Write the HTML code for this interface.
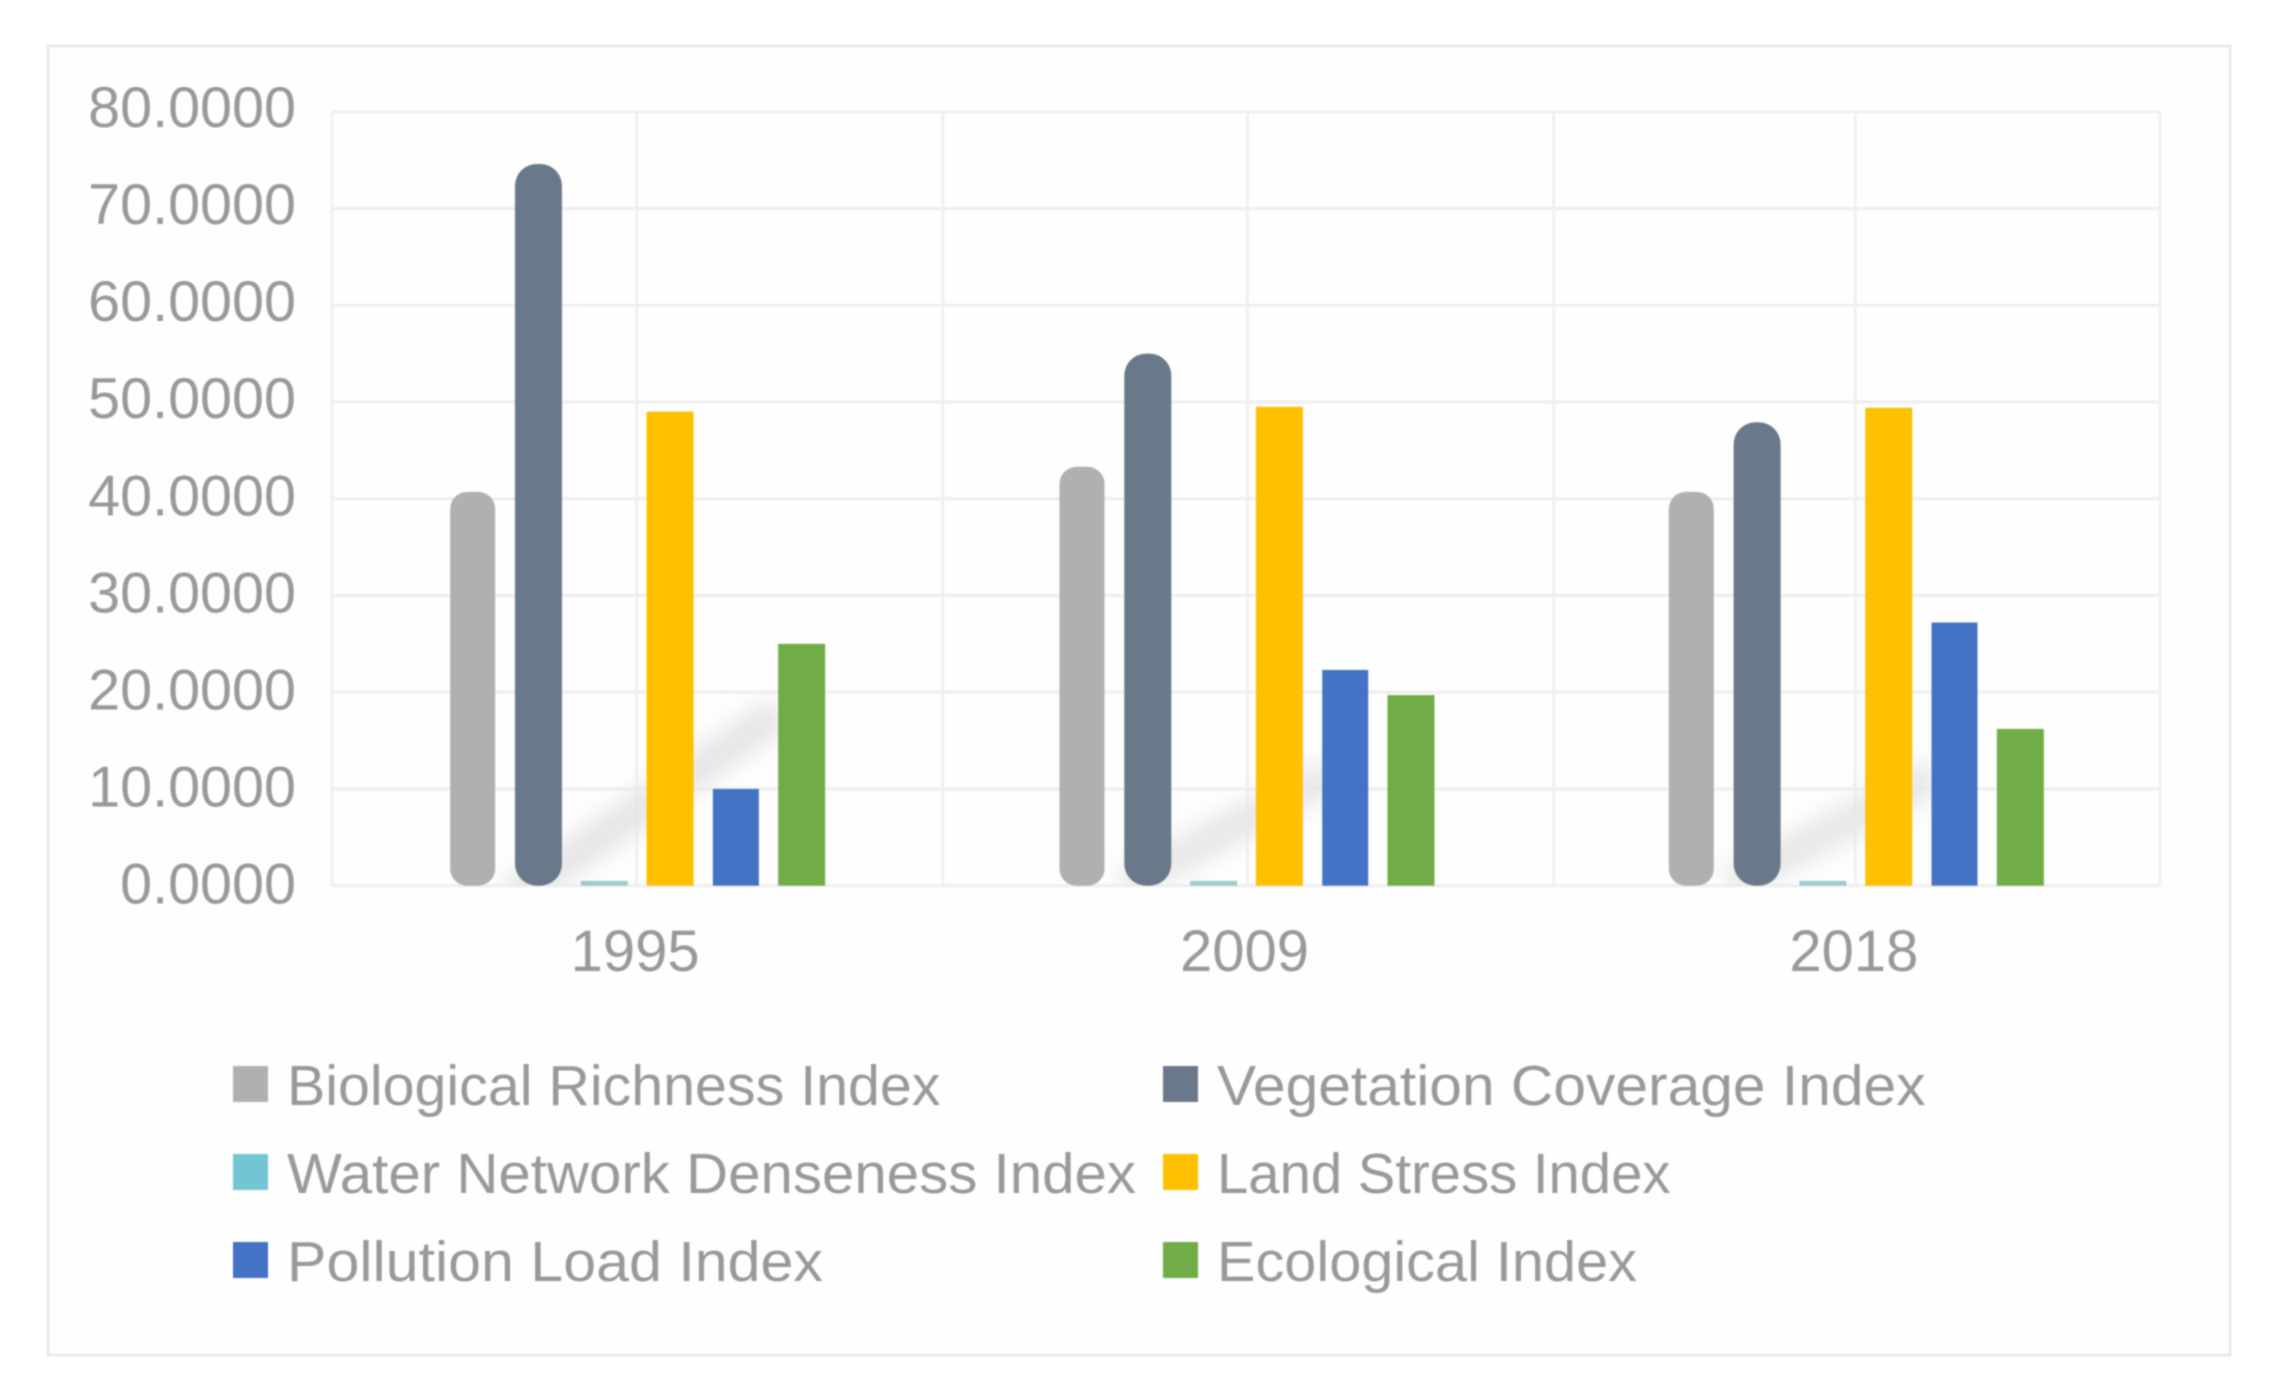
<!DOCTYPE html>
<html lang="en">
<head>
<meta charset="utf-8">
<title>Ecological index components by year</title>
<style>
  html, body { margin: 0; padding: 0; background: #ffffff; }
  body { width: 2272px; height: 1388px; overflow: hidden; }
  #chart { display: block; filter: blur(0.8px); }
  text { font-family: "Liberation Sans", sans-serif; fill: #999999; }
</style>
</head>
<body>
<svg id="chart" xmlns="http://www.w3.org/2000/svg" width="2272" height="1388" viewBox="0 0 2272 1388">
  <defs>
    <filter id="soft-shadow" x="-30%" y="-30%" width="160%" height="160%"><feGaussianBlur stdDeviation="12"></feGaussianBlur></filter>
    <clipPath id="plot-clip"><rect x="332" y="111" width="1828" height="774"></rect></clipPath>
  </defs>
  <rect x="48" y="46" width="2182" height="1309" fill="#fefefe" stroke="#e9e9e9" stroke-width="3"></rect>
  <g id="grid"></g>
  <g clip-path="url(#plot-clip)">
    <line x1="510" y1="900" x2="780" y2="712" stroke="#e4e4e4" stroke-width="34" filter="url(#soft-shadow)"></line>
    <line x1="1125" y1="885" x2="1330" y2="775" stroke="#e6e6e6" stroke-width="34" filter="url(#soft-shadow)"></line>
    <line x1="1730" y1="885" x2="1935" y2="775" stroke="#e6e6e6" stroke-width="34" filter="url(#soft-shadow)"></line>
  </g>
  <g id="y-axis"></g>
  <g id="x-axis"></g>
  <g id="bars"></g>
  <g id="legend"></g>
</svg>
<script>
const categories = ["1995", "2009", "2018"];
const tickValues = [0, 10, 20, 30, 40, 50, 60, 70, 80];
const tickLabels = ["0.0000", "10.0000", "20.0000", "30.0000", "40.0000", "50.0000", "60.0000", "70.0000", "80.0000"];
const seriesNames = ["Biological Richness Index", "Vegetation Coverage Index", "Water Network Denseness Index", "Land Stress Index", "Pollution Load Index", "Ecological Index"];
const biologicalRichness = [40.7, 43.3, 40.7];
const vegetationCoverage = [74.6, 55.0, 47.9];
const waterNetworkDenseness = [0.5, 0.5, 0.5];
const landStress = [49.0, 49.5, 49.4];
const pollutionLoad = [10.0, 22.3, 27.2];
const ecological = [25.0, 19.7, 16.2];

const seriesValues = [biologicalRichness, vegetationCoverage, waterNetworkDenseness, landStress, pollutionLoad, ecological];
const barColors = ["#afb1b0", "#6a7989", "#9ccbd0", "#ffc000", "#4472c4", "#70ad47"];
const swatchColors = ["#afb1b0", "#6a7989", "#74c5d4", "#ffc000", "#4472c4", "#70ad47"];
const barRadius = [17, 22, 0, 0, 0, 0];
const barWidths = [45, 47, 47, 47, 46, 47];
const legendTextLengths = [653.5, 708.6, 849, 453.5, 536, 420];

const NS = "http://www.w3.org/2000/svg";
const plot = { left: 332, right: 2160, top: 111.7, bottom: 885.7 };
const yMax = 80;
const barStep = 65.8;

function yScale(v) {
  return plot.bottom - (v / yMax) * (plot.bottom - plot.top);
}
function xCenter(i) {
  return plot.left + (i + 0.5) * (plot.right - plot.left) / categories.length + 0.5;
}
function make(tag, attrs, parent) {
  const el = document.createElementNS(NS, tag);
  for (const k in attrs) el.setAttribute(k, attrs[k]);
  parent.appendChild(el);
  return el;
}

const gridGroup = document.getElementById("grid");
const yAxis = document.getElementById("y-axis");
const xAxis = document.getElementById("x-axis");
const barsGroup = document.getElementById("bars");
const legendGroup = document.getElementById("legend");

tickValues.forEach(function (v, i) {
  const y = yScale(v);
  const line = make("line", { x1: plot.left, x2: plot.right, y1: y, y2: y, stroke: "#eeeeee", "stroke-width": 3 }, gridGroup);
  
  
  const label = make("text", { x: 296, y: y + 18 - v * 0.035, "text-anchor": "end", "font-size": 57.5 }, yAxis);
  label.textContent = tickLabels[i];
  
  
});

const verticalCount = categories.length * 2;
for (let i = 0; i <= verticalCount; i++) {
  const nudge = i === 2 || i === 3 ? 1.5 : (i === 4 ? 3 : 0);
  const x = plot.left + i * (plot.right - plot.left) / verticalCount + nudge;
  const line = make("line", { x1: x, x2: x, y1: plot.top, y2: plot.bottom, stroke: "#f0f0f0", "stroke-width": 3 }, gridGroup);
  
  
}

categories.forEach(function (cat, c) {
  const label = make("text", { x: xCenter(c) - 2, y: 971, "text-anchor": "middle", "font-size": 58 }, xAxis);
  label.textContent = cat;
  
  

  seriesValues.forEach(function (values, s) {
    const top = yScale(values[c]);
    const x = xCenter(c) + (s - (seriesValues.length - 1) / 2) * barStep - barWidths[s] / 2;
    const bar = make("rect", {
      x: x,
      y: top,
      width: barWidths[s],
      height: plot.bottom - top,
      fill: barColors[s],
      rx: barRadius[s],
      ry: barRadius[s]
    }, barsGroup);
    
    
  });
});

seriesNames.forEach(function (name, s) {
  const col = s % 2;
  const row = Math.floor(s / 2);
  const swatchX = col === 0 ? 233 : 1163;
  const textX = col === 0 ? 287 : 1217;
  const centerY = 1084 + row * 88;
  const swatch = make("rect", { x: swatchX, y: centerY - 18, width: 35, height: 36, fill: swatchColors[s] }, legendGroup);
  
  
  const label = make("text", { x: textX, y: centerY + 21, "font-size": 57, textLength: legendTextLengths[s], lengthAdjust: "spacingAndGlyphs" }, legendGroup);
  label.textContent = name;
  
  
});
</script>
</body>
</html>
